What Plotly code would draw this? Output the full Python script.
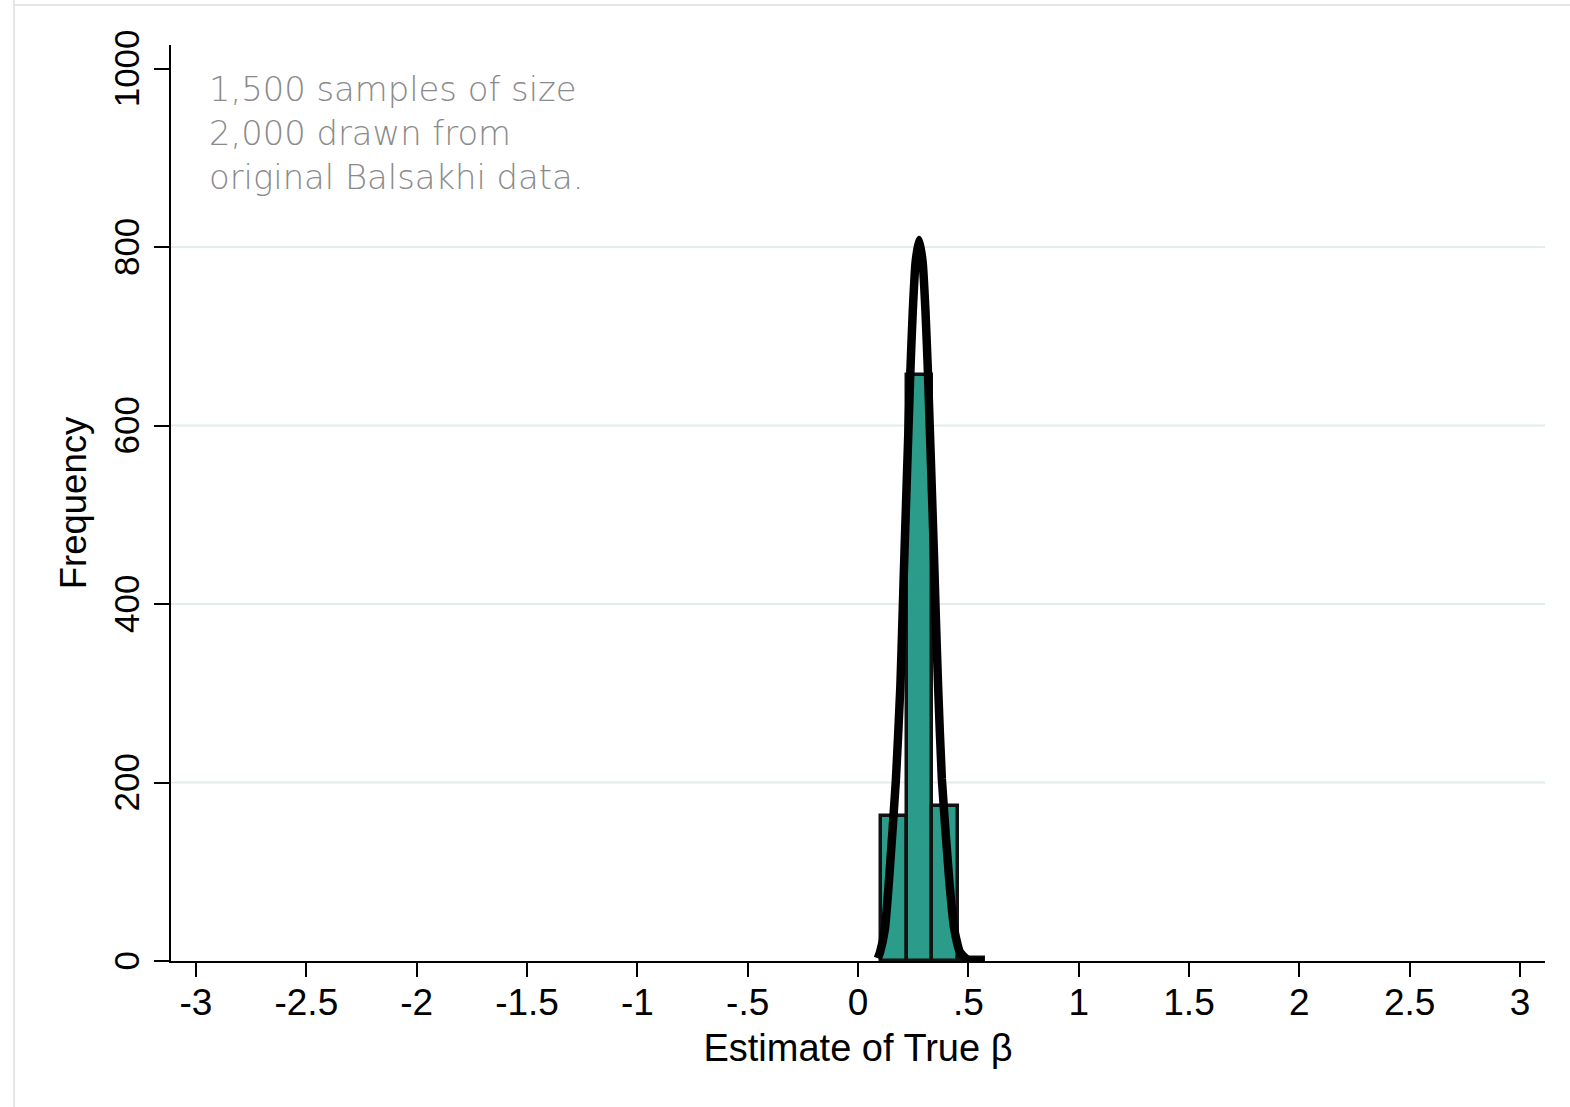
import plotly.graph_objects as go

# Histogram of estimated beta across bootstrap samples
bin_edges = [0.103, 0.220, 0.337, 0.454, 0.571]
counts = [162, 657, 174, 3]

# Overlaid normal density (frequency scale), traced point by point
curve_x = [0.090, 0.100, 0.122, 0.141, 0.172, 0.192, 0.2015, 0.2105, 0.237, 0.248, 0.261, 0.277,
           0.293, 0.306, 0.317, 0.344, 0.353, 0.363, 0.380, 0.413, 0.436, 0.462, 0.500, 0.571]
curve_y = [3, 10, 36, 92, 204, 308, 383, 457, 659, 727, 783, 808,
           783, 727, 659, 457, 383, 308, 204, 92, 36, 10, 1, 0]

x_tickvals = [-3, -2.5, -2, -1.5, -1, -0.5, 0, 0.5, 1, 1.5, 2, 2.5, 3]
x_ticktext = ["-3", "-2.5", "-2", "-1.5", "-1", "-.5", "0", ".5", "1", "1.5", "2", "2.5", "3"]
y_tickvals = [0, 200, 400, 600, 800, 1000]
y_gridvals = [200, 400, 600, 800]

note_lines = ["1,500 samples of size", "2,000 drawn from", "original Balsakhi data."]

centers = [(a + b) / 2 for a, b in zip(bin_edges[:-1], bin_edges[1:])]
widths = [b - a for a, b in zip(bin_edges[:-1], bin_edges[1:])]

fig = go.Figure()
fig.add_trace(go.Bar(
    x=centers, y=counts, width=widths,
    marker=dict(color="#2a9c89", line=dict(color="#111111", width=3.5)),
    hoverinfo="x+y",
))
fig.add_trace(go.Scatter(
    x=curve_x, y=curve_y, mode="lines",
    line=dict(color="#000000", width=8.5, shape="spline", smoothing=0.5),
))

sans = "Liberation Sans, Arial, Helvetica, sans-serif"

shapes = []
for g in y_gridvals:
    shapes.append(dict(type="line", xref="paper", yref="y", x0=0, x1=1, y0=g, y1=g,
                       line=dict(color="#e2eceb", width=2), layer="below"))
# faint outer frame (left and top edges)
shapes.append(dict(type="line", xref="paper", yref="paper",
                   x0=(14 - 171) / 1374, x1=(14 - 171) / 1374, y0=-0.2, y1=1.06,
                   line=dict(color="#e4e6e6", width=2)))
shapes.append(dict(type="line", xref="paper", yref="paper",
                   x0=(14 - 171) / 1374, x1=1.05, y0=(961 - 5) / 916, y1=(961 - 5) / 916,
                   line=dict(color="#e4e6e6", width=2)))

# note lines, one annotation per line for tight spacing
annotations = []
for i, line in enumerate(note_lines):
    annotations.append(dict(
        text=line, xref="paper", yref="paper",
        x=(207 - 171) / 1374, y=(961 - (90 + 44 * i)) / 916,
        xanchor="left", yanchor="middle", align="left", showarrow=False,
        font=dict(family="DejaVu Sans, sans-serif", size=33.8, color="#8a8a8a", weight=200),
    ))

fig.update_layout(
    width=1570, height=1107,
    margin=dict(l=171, r=25, t=45, b=146),
    paper_bgcolor="#ffffff", plot_bgcolor="#ffffff",
    showlegend=False,
    bargap=0,
    shapes=shapes,
    annotations=annotations,
    xaxis=dict(
        range=[-3.1133, 3.1133],
        tickmode="array", tickvals=x_tickvals, ticktext=x_ticktext,
        ticks="outside", ticklen=14, tickwidth=2, tickcolor="#000000",
        showline=True, linecolor="#000000", linewidth=2,
        showgrid=False, zeroline=False,
        tickfont=dict(family=sans, size=37, color="#000000"), ticklabelstandoff=-6,
        title=dict(text="Estimate of True β", font=dict(family=sans, size=38, color="#000000"), standoff=12),
    ),
    yaxis=dict(
        range=[0, 1026.5],
        tickmode="array", tickvals=y_tickvals,
        ticks="outside", ticklen=15, tickwidth=2, tickcolor="#000000",
        showline=True, linecolor="#000000", linewidth=2,
        showgrid=False, zeroline=False,
        tickangle=-90, tickfont=dict(family=sans, size=35, color="#000000"),
        ticklabelstandoff=1, ticklabelshift=5,
        title=dict(text="Frequency", font=dict(family=sans, size=36.5, color="#000000"), standoff=9),
    ),
)

fig.write_html("out.html")
